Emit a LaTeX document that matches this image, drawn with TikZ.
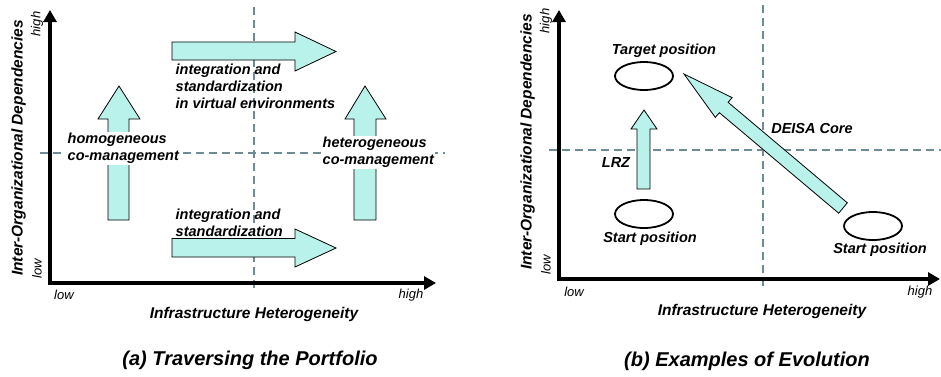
\documentclass[tikz,border=0pt]{standalone}
\usepackage{fontspec}
\setmainfont{Liberation Sans}
\usetikzlibrary{arrows.meta,shapes.geometric}
\definecolor{arrfill}{RGB}{185,242,234}
\definecolor{dashc}{RGB}{110,140,150}
\begin{document}
\begin{tikzpicture}[x=1pt,y=-1pt,
  axisline/.style={line width=3.5pt,-{Triangle[length=12pt,width=13pt]}},
  gridline/.style={dashc,line width=1.6pt,dash pattern=on 8pt off 5pt},
  blk/.style={draw=black,line width=0.8pt,fill=arrfill,line join=miter},
  posell/.style={draw=black,line width=1.8pt,ellipse,minimum width=58pt,minimum height=28pt,inner sep=0pt},
  lbl/.style={font=\fontsize{14.5}{16.7}\selectfont\bfseries\itshape,align=left,inner sep=1.5pt},
  ttl/.style={font=\fontsize{15.5}{18}\selectfont\bfseries\itshape,inner sep=0pt},
  ticktxt/.style={font=\fontsize{13}{15}\selectfont\itshape,inner sep=0pt},
  captxt/.style={font=\fontsize{20}{24}\selectfont\bfseries\itshape,inner sep=0pt},
  cover/.style={fill=white}
]
\useasboundingbox (0,0) rectangle (941,376);

% ================= (a) =================
\coordinate (aO) at (50,283);
\coordinate (aYt) at (50,10);
\coordinate (aXt) at (436,283);
\coordinate (aV1) at (254,7);
\coordinate (aV2) at (254,290);
\coordinate (aH1) at (40,153);
\coordinate (aH2) at (445,153);
\draw[gridline] (aV1) -- (aV2);
\draw[gridline] (aH1) -- (aH2);

% block arrows
\draw[blk] (172,42) -- (295,42) -- (295,32) -- (336,51.5) -- (295,71) -- (295,60) -- (172,60) -- cycle;
\draw[blk] (172,238.5) -- (295,238.5) -- (295,229) -- (336,248) -- (295,267) -- (295,257) -- (172,257) -- cycle;
\draw[blk] (108,220) -- (108,119) -- (98,119) -- (119,86) -- (140,119) -- (129,119) -- (129,220) -- cycle;
\draw[blk] (354,220) -- (354,119) -- (345,119) -- (365,86) -- (386,119) -- (376,119) -- (376,220) -- cycle;

\node[lbl,cover,anchor=west] (homo) at (66,148.5) {homogeneous\\co-management};
\node[lbl,cover,anchor=west] (hetero) at (321,152.5) {heterogeneous\\co-management};
\node[lbl,anchor=west] (intv) at (174,86.5) {integration and\\standardization\\in virtual environments};
\node[lbl,anchor=west] (intb) at (174,222.5) {integration and\\standardization};

\draw[axisline] ([yshift=1.75pt]aO) -- (aYt);
\draw[axisline] ([xshift=-1.75pt]aO) -- (aXt);

\node[ttl,rotate=90] (aYl) at (18.5,148) {Inter-Organizational Dependencies};
\node[ticktxt,rotate=90] (aYh) at (37,24) {high};
\node[ticktxt,rotate=90] (aYlo) at (37,269) {low};
\node[ticktxt] (aXlo) at (64,295) {low};
\node[ticktxt] (aXh) at (411,295) {high};
\node[ttl] (aXl) at (254,314) {Infrastructure Heterogeneity};
\node[captxt] (acap) at (250,360) {(a) Traversing the Portfolio};

% ================= (b) =================
\coordinate (bO) at (559,279);
\coordinate (bYt) at (559,10);
\coordinate (bXt) at (940,279);
\coordinate (bV1) at (763,5);
\coordinate (bV2) at (763,287);
\coordinate (bH1) at (549,150);
\coordinate (bH2) at (941,150);
\draw[gridline] (bV1) -- (bV2);
\draw[gridline] (bH1) -- (bH2);

\node[posell] (tgt) at (644,76) {};
\node[posell] (st1) at (644,214) {};
\node[posell] (st2) at (873,226) {};

% LRZ arrow
\draw[blk] (637,189) -- (637,129) -- (631,129) -- (644,110) -- (657,129) -- (650,129) -- (650,189) -- cycle;
% DEISA Core arrow
\draw[blk] (847.3,202.8) -- (728.1,102.3) -- (732.1,97.6) -- (684,74) -- (715.3,117.4) -- (719.4,112.7) -- (838.7,213.2) -- cycle;

\node[lbl] (tgtl) at (664,51) {Target position};
\node[lbl] (st1l) at (650,239) {Start position};
\node[lbl] (st2l) at (880,250) {Start position};
\node[lbl] (lrz) at (616,163) {LRZ};
\node[lbl] (deisa) at (812,129) {DEISA Core};

\draw[axisline] ([yshift=1.75pt]bO) -- (bYt);
\draw[axisline] ([xshift=-1.75pt]bO) -- (bXt);

\node[ttl,rotate=90] (bYl) at (527.5,142) {Inter-Organizational Dependencies};
\node[ticktxt,rotate=90] (bYh) at (546,21) {high};
\node[ticktxt,rotate=90] (bYlo) at (546,265) {low};
\node[ticktxt] (bXlo) at (574,292) {low};
\node[ticktxt] (bXh) at (920,292) {high};
\node[ttl] (bXl) at (762,311) {Infrastructure Heterogeneity};
\node[captxt] (bcap) at (747,361) {(b) Examples of Evolution};
\end{tikzpicture}
\end{document}
